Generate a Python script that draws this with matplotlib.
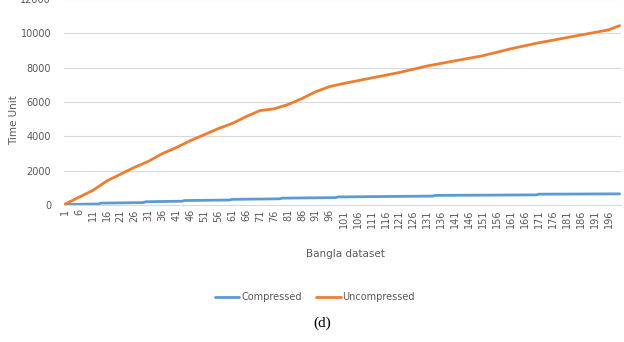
import matplotlib.pyplot as plt

unc_x = [1, 6, 11, 16, 21, 26, 31, 36, 41, 46, 51, 56, 61, 66, 71, 76, 81, 86,
         91, 96, 101, 111, 121, 131, 141, 151, 161, 171, 181, 191, 196, 200]
unc_y = [50, 450, 850, 1400, 1800, 2200, 2550, 3000, 3350, 3750, 4100, 4450,
         4750, 5150, 5500, 5600, 5850, 6200, 6600, 6900, 7080, 7400, 7720, 8100,
         8400, 8700, 9100, 9450, 9750, 10050, 10200, 10450]

comp_x = [1, 13, 14, 29, 30, 43, 44, 60, 61, 78, 79, 98, 99, 133, 134, 170, 171, 200]
comp_y = [30, 60, 110, 140, 190, 220, 260, 290, 330, 360, 400, 430, 470, 520,
          560, 590, 630, 650]

tick_pos = list(range(1, 200, 5))
tick_labels = [str(t) for t in tick_pos]

grey = "#595959"

fig = plt.figure(figsize=(6.24, 3.42), dpi=100)
ax = fig.add_axes([63.6 / 624, 1 - 205 / 342, (621 - 63.6) / 624, 206 / 342])

ax.plot(comp_x, comp_y, color="#5B9BD5", lw=2.0, label="Compressed",
        solid_capstyle="round")
ax.plot(unc_x, unc_y, color="#ED7D31", lw=2.0, label="Uncompressed",
        solid_capstyle="round")

ax.set_xlim(0.5, 200.5)
ax.set_ylim(0, 12000)
ax.set_yticks(range(0, 12001, 2000))
ax.set_xticks(tick_pos)
ax.set_xticklabels(tick_labels, rotation=90, fontsize=7, color=grey)
ax.tick_params(axis="y", labelsize=7, labelcolor=grey, length=0, pad=9)
ax.tick_params(axis="x", length=0, pad=3)
ax.yaxis.grid(True, color="#d9d9d9", lw=0.8)
ax.set_axisbelow(True)
for s in ["top", "right", "left"]:
    ax.spines[s].set_visible(False)
ax.spines["bottom"].set_color("#d9d9d9")

fig.text(14 / 624, 1 - 120 / 342, "Time Unit", rotation=90, fontsize=7.5,
         color=grey, ha="center", va="center")
fig.text(345 / 624, 1 - 254 / 342, "Bangla dataset", fontsize=7.5,
         color=grey, ha="center", va="center")

fig.legend(loc="center", bbox_to_anchor=(315 / 624, 1 - 297 / 342), ncol=2,
           frameon=False, fontsize=7, labelcolor=grey, handlelength=2.5,
           handletextpad=0.2, columnspacing=1.5)

fig.text(322 / 624, 1 - 323 / 342, "(d)", fontsize=11, family="Liberation Serif",
         ha="center", va="center")

fig.savefig("out.png", dpi=100)
